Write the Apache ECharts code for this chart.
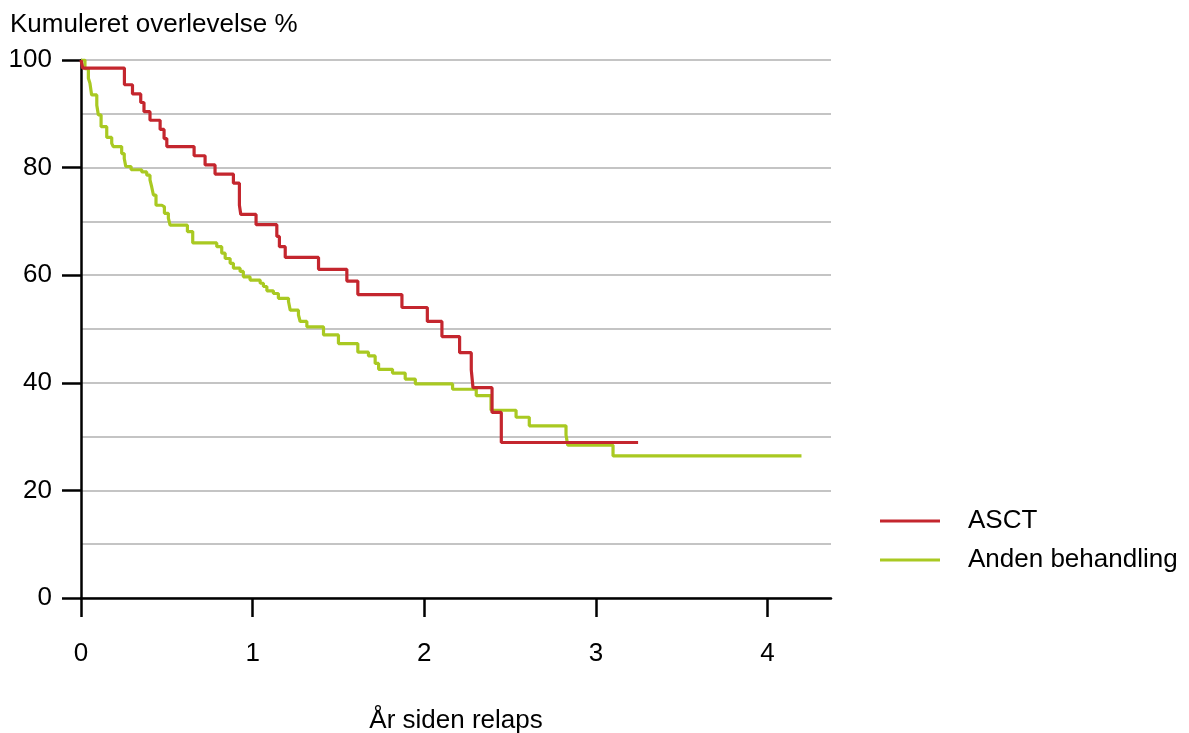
<!DOCTYPE html>
<html><head><meta charset="utf-8">
<script src="https://cdn.jsdelivr.net/npm/echarts@6/dist/echarts.min.js"></script>
<style>html,body{margin:0;padding:0;background:#fff}#c{width:1189px;height:733px}</style>
</head><body><div id="c"></div>
<script>
const yTitle = 'Kumuleret overlevelse %';
const xTitle = 'År siden relaps';
const seriesNames = ['ASCT', 'Anden behandling'];
const xTicks = [0, 1, 2, 3, 4];
const yTicks = [0, 20, 40, 60, 80, 100];

const asctTime = [0, 0.01, 0.253, 0.30, 0.348, 0.367, 0.402, 0.461, 0.484, 0.50, 0.659, 0.723, 0.781, 0.888, 0.923, 0.931, 1.02, 1.141, 1.156, 1.19, 1.384, 1.549, 1.613, 1.87, 2.018, 2.103, 2.206, 2.274, 2.284, 2.395, 2.449, 3.246];
const asctSurv = [100, 98.5, 95.4, 93.7, 92.1, 90.4, 88.8, 87.1, 85.4, 83.9, 82.2, 80.5, 78.8, 77.1, 73.0, 71.3, 69.4, 67.2, 65.3, 63.3, 61.1, 58.9, 56.4, 54.0, 51.4, 48.6, 45.6, 42.4, 39.1, 34.5, 28.9, 28.9];

const otherTime = [0, 0.023, 0.043, 0.052, 0.062, 0.092, 0.101, 0.117, 0.150, 0.179, 0.188, 0.237, 0.252, 0.261, 0.292, 0.354, 0.383, 0.402, 0.412, 0.422, 0.437, 0.471, 0.486, 0.509, 0.519, 0.620, 0.651, 0.791, 0.820, 0.840, 0.869, 0.888, 0.927, 0.946, 0.985, 1.044, 1.063, 1.083, 1.121, 1.150, 1.209, 1.219, 1.267, 1.277, 1.316, 1.413, 1.500, 1.613, 1.675, 1.714, 1.734, 1.815, 1.889, 1.948, 2.165, 2.303, 2.389, 2.535, 2.612, 2.826, 2.836, 3.100, 4.198];
const otherSurv = [100, 98.4, 96.6, 95.7, 93.5, 91.6, 89.8, 87.6, 85.6, 84.5, 83.9, 82.6, 81.7, 80.2, 79.6, 79.2, 78.6, 77.7, 76.4, 74.9, 73.0, 72.7, 71.5, 70.6, 69.3, 68.1, 66.0, 65.3, 64.1, 63.1, 62.2, 61.3, 60.7, 59.7, 59.1, 58.5, 57.9, 57.1, 56.6, 55.7, 55.1, 53.5, 52.6, 51.4, 50.4, 48.9, 47.3, 45.7, 45.0, 43.6, 42.5, 41.8, 40.7, 39.8, 38.8, 37.6, 34.9, 33.6, 32.0, 30.3, 28.4, 26.4, 26.4];

const colors = ['#c4262e', '#a9c922'];
const font = 'Liberation Sans, Arial, sans-serif';
const fs = 26;

const pairs = (t, v) => t.map((x, i) => [x, v[i]]);

const chart = echarts.init(document.getElementById('c'), null, {renderer: 'canvas'});
chart.setOption({
  animation: false,
  backgroundColor: '#fff',
  textStyle: {fontFamily: font},
  title: {
    text: yTitle, left: 10, top: 12, padding: 0,
    textStyle: {fontFamily: font, fontSize: fs, fontWeight: 'normal', color: '#000'}
  },
  legend: {
    orient: 'vertical', left: 880, top: 508, padding: 0,
    itemWidth: 60, itemHeight: 3, itemGap: 13,
    data: seriesNames.map(n => ({name: n, icon: 'rect'})),
    textStyle: {fontFamily: font, fontSize: fs, color: '#000', padding: [0, 0, 0, 23], lineHeight: 26}
  },
  grid: {left: 81, top: 60, right: 358, bottom: 135, containLabel: false, outerBoundsMode: 'none'},
  xAxis: {
    type: 'value', min: 0, max: 4.37, interval: 1,
    name: xTitle, nameLocation: 'middle', nameGap: 110,
    nameTextStyle: {fontFamily: font, fontSize: fs, color: '#000'},
    axisLine: {show: true, onZero: false, lineStyle: {color: '#000', width: 2.5}},
    axisTick: {show: true, inside: false, length: 19, lineStyle: {color: '#000', width: 2.5}},
    axisLabel: {
      margin: 43, fontFamily: font, fontSize: fs, color: '#000',
      formatter: v => (xTicks.indexOf(v) >= 0 ? String(v) : ''), showMaxLabel: false
    },
    splitLine: {show: false}
  },
  yAxis: {
    type: 'value', min: 0, max: 100, interval: 20,
    axisLine: {show: true, onZero: false, lineStyle: {color: '#000', width: 2.5}},
    axisTick: {show: true, inside: false, length: 19, lineStyle: {color: '#000', width: 2.5}},
    axisLabel: {
      margin: 29, fontFamily: font, fontSize: fs, color: '#000', padding: [4, 0, 0, 0],
      formatter: v => (yTicks.indexOf(v) >= 0 ? String(v) : '')
    },
    splitLine: {show: true, lineStyle: {color: '#c4c4c4', width: 2}},
    minorTick: {show: false, splitNumber: 2},
    minorSplitLine: {show: true, lineStyle: {color: '#c4c4c4', width: 2}}
  },
  series: [
    {
      name: seriesNames[0], type: 'line', step: 'end', showSymbol: false, z: 3,
      data: pairs(asctTime, asctSurv),
      lineStyle: {color: colors[0], width: 3.2}, itemStyle: {color: colors[0]}
    },
    {
      name: seriesNames[1], type: 'line', step: 'end', showSymbol: false, z: 2,
      data: pairs(otherTime, otherSurv),
      lineStyle: {color: colors[1], width: 3.2}, itemStyle: {color: colors[1]}
    }
  ]
});
</script>
</body></html>
